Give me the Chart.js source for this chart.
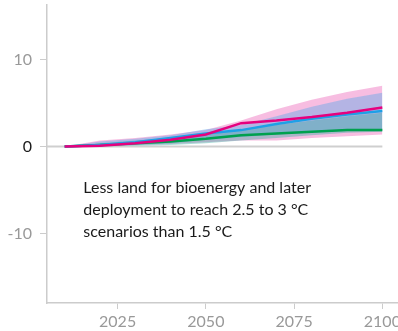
<!DOCTYPE html>
<html>
<head>
<meta charset="utf-8">
<script src="https://cdn.jsdelivr.net/npm/chart.js@4/dist/chart.umd.min.js"></script>
<style>
  html, body { margin: 0; padding: 0; background: #fff; overflow: hidden; }
  #wrap { width: 420px; height: 331px; }
</style>
</head>
<body>
<div id="wrap"><canvas id="c" width="420" height="331"></canvas></div>
<script>
// Scenario years
const years = [2010, 2020, 2030, 2040, 2050, 2060, 2070, 2080, 2090, 2100];

// Median pathways
const magentaLine = [0, 0.1, 0.4, 0.8, 1.4, 2.7, 3.0, 3.4, 3.9, 4.5];
const blueLine    = [0, 0.2, 0.5, 1.0, 1.5, 1.9, 2.6, 3.2, 3.7, 4.1];
const greenLine   = [0, 0.2, 0.4, 0.6, 0.9, 1.3, 1.5, 1.7, 1.9, 1.9];

// Ranges
const pinkUpper  = [0, 0.7, 1.0, 1.4, 1.9, 3.0, 4.3, 5.4, 6.3, 7.0];
const pinkLower  = [0, 0.1, 0.2, 0.3, 0.5, 0.7, 0.7, 1.0, 1.2, 1.4];
const blueUpper  = [0, 0.6, 0.9, 1.3, 2.0, 2.5, 3.5, 4.6, 5.5, 6.2];
const blueLower  = [0, 0.1, 0.2, 0.4, 0.8, 1.1, 1.4, 1.6, 1.8, 1.8];
const greenUpper = [0, 0.4, 0.7, 1.0, 1.4, 1.9, 2.5, 3.0, 3.5, 3.9];
const greenLower = [0, 0.0, 0.1, 0.2, 0.4, 0.7, 1.0, 1.3, 1.6, 1.7];

// Axis ticks
const xTicks = [2025, 2050, 2075, 2100];
const yTicks = [10, 0, -10];

const noteLines = [
  'Less land for bioenergy and later',
  'deployment to reach 2.5 to 3 \u00B0C',
  'scenarios than 1.5 \u00B0C'
];

const FONT = 'Lato, "Noto Sans", sans-serif';
const pts = arr => arr.map((v, i) => ({ x: years[i], y: v }));

function band(lower, upper, color, ord) {
  return [
    { data: pts(lower), borderWidth: 0, pointRadius: 0, fill: false, order: ord, backgroundColor: 'transparent' },
    { data: pts(upper), borderWidth: 0, pointRadius: 0, fill: '-1', order: ord, backgroundColor: color }
  ];
}
function line(vals, color, ord) {
  return { data: pts(vals), borderColor: color, borderWidth: 2.5, pointRadius: 0, fill: false, order: ord, tension: 0 };
}

const datasets = [
  { data: [{ x: 2005, y: 0 }, { x: 2100, y: 0 }], borderColor: '#cfcfcf', borderWidth: 2, pointRadius: 0, fill: false, order: 20 },
  ...band(pinkLower, pinkUpper, 'rgba(236,90,180,0.4)', 12),
  ...band(blueLower, blueUpper, 'rgba(100,170,232,0.45)', 11),
  ...band(greenLower, greenUpper, 'rgba(50,170,160,0.4)', 10),
  line(greenLine, '#00a04e', 3),
  line(blueLine, '#1ea0e6', 2),
  line(magentaLine, '#e6007e', 1)
];

// Text note anchored in data space
const notePlugin = {
  id: 'note',
  afterDatasetsDraw(chart) {
    const { ctx, scales } = chart;
    const x = scales.x.getPixelForValue(2015.3);
    const y = scales.y.getPixelForValue(-4.7);
    ctx.save();
    ctx.fillStyle = '#1a1a1a';
    ctx.font = '16px ' + FONT;
    ctx.textBaseline = 'middle';
    noteLines.forEach((t, i) => ctx.fillText(t, x, y + i * 22));
    ctx.restore();
  }
};

new Chart(document.getElementById('c'), {
  type: 'line',
  data: { datasets },
  plugins: [notePlugin],
  options: {
    responsive: false,
    animation: false,
    events: [],
    layout: { padding: { top: 5, left: 0, right: 20, bottom: 0 } },
    plugins: { legend: { display: false }, tooltip: { enabled: false } },
    scales: {
      x: {
        type: 'linear',
        min: 2005,
        max: 2105,
        afterBuildTicks: s => { s.ticks = xTicks.map(v => ({ value: v })); },
        afterFit: s => { s.height = 28; s.paddingLeft = 0; s.paddingRight = 0; },
        border: { color: '#cccccc', width: 1.5 },
        grid: { drawOnChartArea: false, drawTicks: true, tickLength: 6, color: '#cccccc', tickColor: '#cccccc' },
        ticks: { color: '#999999', font: { family: FONT, size: 16 }, padding: 3, maxRotation: 0, callback: v => String(v) }
      },
      y: {
        type: 'linear',
        min: -18,
        max: 16.3,
        afterBuildTicks: s => { s.ticks = yTicks.map(v => ({ value: v })); },
        afterFit: s => { s.width = 47; s.paddingTop = 0; s.paddingBottom = 0; },
        border: { color: '#cccccc', width: 1.5 },
        grid: { drawOnChartArea: false, drawTicks: true, tickLength: 7, color: '#cccccc', tickColor: '#cccccc' },
        ticks: {
          color: c => (c.tick && c.tick.value === 0 ? '#1a1a1a' : '#999999'),
          font: { family: FONT, size: 16 },
          padding: 8,
          callback: v => String(v)
        }
      }
    }
  }
});
</script>
</body>
</html>
